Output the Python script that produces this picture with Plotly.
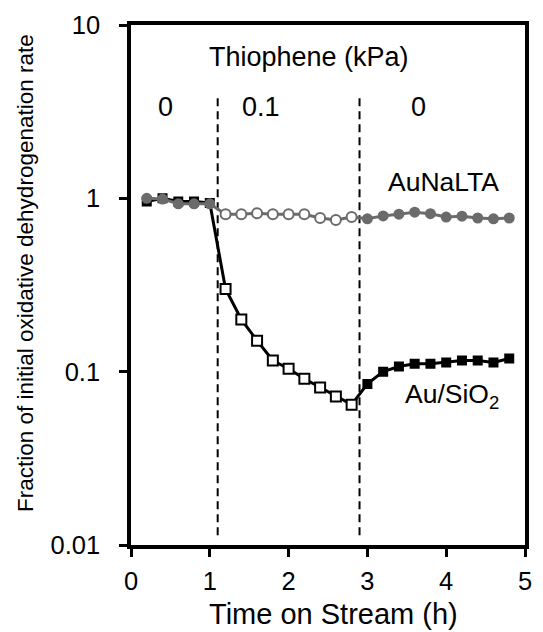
import plotly.graph_objects as go

# Time on stream (h)
time_h = [0.2, 0.4, 0.6, 0.8, 1.0, 1.2, 1.4, 1.6, 1.8, 2.0, 2.2, 2.4,
          2.6, 2.8, 3.0, 3.2, 3.4, 3.6, 3.8, 4.0, 4.2, 4.4, 4.6, 4.8]

# Fraction of initial oxidative dehydrogenation rate
aunalta = [1.00, 0.99, 0.93, 0.93, 0.93, 0.81, 0.81, 0.82, 0.81, 0.81, 0.81, 0.77,
           0.75, 0.78, 0.762, 0.792, 0.810, 0.832, 0.815, 0.780, 0.789, 0.770, 0.762, 0.770]
au_sio2 = [0.96, 1.00, 0.96, 0.96, 0.94, 0.30, 0.20, 0.151, 0.116, 0.104, 0.091, 0.081,
           0.072, 0.0645, 0.085, 0.100, 0.107, 0.111, 0.111, 0.113, 0.116, 0.116, 0.113, 0.119]

# Thiophene pressure at each time point (kPa): open markers while thiophene is fed
thiophene_kpa = [0, 0, 0, 0, 0, 0.1, 0.1, 0.1, 0.1, 0.1, 0.1, 0.1,
                 0.1, 0.1, 0, 0, 0, 0, 0, 0, 0, 0, 0, 0]

# Times at which the thiophene feed was switched on / off
switch_times = [1.1, 2.9]
segment_labels = ["0", "0.1", "0"]
segment_centers = [0.44, 1.65, 3.65]

yticks = [0.01, 0.1, 1, 10]
ytick_text = ["0.01", "0.1", "1", "10"]
xticks = [0, 1, 2, 3, 4, 5]

GRAY = "#6b6b6b"
FONT = "Liberation Sans, Arial, sans-serif"

fig = go.Figure()

# Dashed lines at the thiophene switches
for t in switch_times:
    fig.add_trace(go.Scatter(
        x=[t, t], y=[0.0114, 3.9], mode="lines",
        line=dict(color="black", width=2, dash="8px,5px"),
        hoverinfo="skip", showlegend=False))

fed = [p > 0 for p in thiophene_kpa]
fill_black = ["white" if f else "black" for f in fed]
fill_gray = ["white" if f else GRAY for f in fed]
size_sq = [10 if f else 8 for f in fed]
size_ci = [10 if f else 9 for f in fed]

fig.add_trace(go.Scatter(
    x=time_h, y=au_sio2, mode="lines+markers", name="Au/SiO2",
    line=dict(color="black", width=3),
    marker=dict(symbol="square", size=size_sq, color=fill_black, opacity=1,
                line=dict(color="black", width=2)),
    showlegend=False))

fig.add_trace(go.Scatter(
    x=time_h, y=aunalta, mode="lines+markers", name="AuNaLTA",
    line=dict(color=GRAY, width=3),
    marker=dict(symbol="circle", size=size_ci, color=fill_gray, opacity=1,
                line=dict(color=GRAY, width=2)),
    showlegend=False))

annotations = [
    dict(x=2.26, y=0.816, text="Thiophene (kPa)", showarrow=False,
         xref="x", yref="y", font=dict(size=27)),
    dict(x=3.96, y=0.092, text="AuNaLTA", showarrow=False,
         xref="x", yref="y", font=dict(size=26.5)),
    dict(x=4.07, y=-1.138, text="Au/SiO<sub>2</sub>", showarrow=False,
         xref="x", yref="y", font=dict(size=26.5)),
    # axis titles
    dict(x=0.5, y=0, xref="paper", yref="paper", yanchor="middle",
         xshift=5, yshift=-69, text="Time on Stream (h)", showarrow=False,
         font=dict(size=29)),
    dict(x=0, y=0.523, xref="paper", yref="paper", xanchor="center",
         yanchor="middle", xshift=-106, textangle=-90,
         text="Fraction of initial oxidative dehydrogenation rate",
         showarrow=False, font=dict(size=22.5)),
]
for lbl, xc in zip(segment_labels, segment_centers):
    annotations.append(dict(x=xc, y=0.529, text=lbl, showarrow=False,
                            xref="x", yref="y", font=dict(size=27)))

fig.update_layout(
    width=543, height=632,
    margin=dict(l=131, r=11, t=23, b=87),
    paper_bgcolor="white", plot_bgcolor="white",
    font=dict(family=FONT, color="black", size=25),
    annotations=annotations,
    xaxis=dict(range=[0, 5], tickvals=xticks, showgrid=False, zeroline=False,
               showline=True, linecolor="black", linewidth=3.5, mirror=True,
               ticks="outside", ticklen=8, tickwidth=3, tickcolor="black",
               tickfont=dict(size=25.5), ticklabelstandoff=3),
    yaxis=dict(type="log", range=[-2, 1], tickvals=yticks, ticktext=ytick_text,
               showgrid=False, zeroline=False,
               showline=True, linecolor="black", linewidth=3.5, mirror=True,
               ticks="outside", ticklen=8, tickwidth=3, tickcolor="black",
               tickfont=dict(size=25.5), ticklabelstandoff=14),
)

fig.write_html("out.html")
